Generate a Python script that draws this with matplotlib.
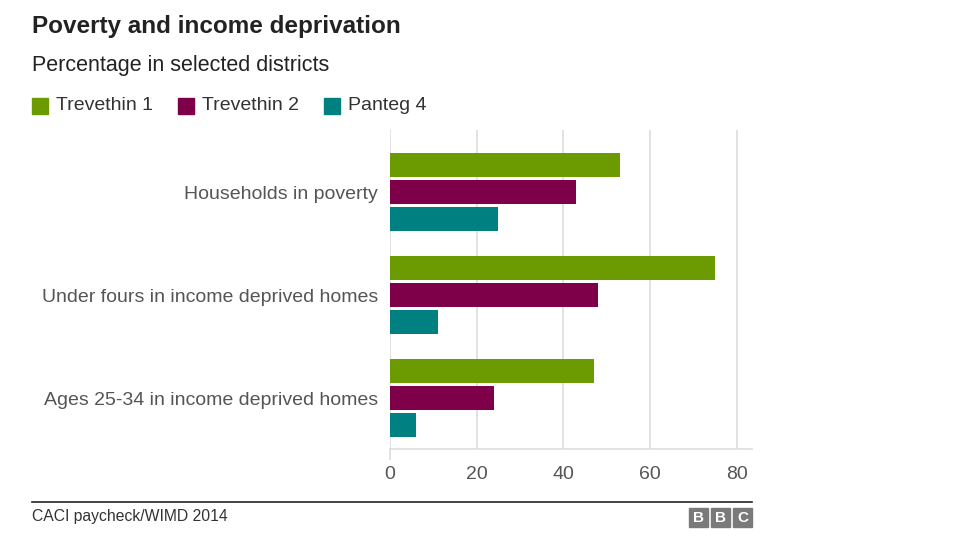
import numpy as np
import matplotlib.pyplot as plt
from matplotlib.patches import Rectangle

plt.rcParams['font.family'] = ['Liberation Sans', 'DejaVu Sans']

categories = ['Households in poverty',
              'Under fours in income deprived homes',
              'Ages 25-34 in income deprived homes']
series_names = ['Trevethin 1', 'Trevethin 2', 'Panteg 4']
trevethin1 = [53, 75, 47]
trevethin2 = [43, 48, 24]
panteg4 = [25, 11, 6]
colors = ['#6b9b00', '#7e0048', '#008080']
xticks = [0, 20, 40, 60, 80]

W, H = 976, 549
fig = plt.figure(figsize=(W/100, H/100), dpi=100)

# axes box in pixel coords
left, right, top, bottom = 390, 752, 130, 449
ax = fig.add_axes([left/W, 1 - bottom/H, (right-left)/W, (bottom-top)/H])

y = np.arange(len(categories))
step = 0.262
bh = 0.233
for i, (vals, c) in enumerate(zip([trevethin1, trevethin2, panteg4], colors)):
    ax.barh(y + (i-1)*step, vals, height=bh, color=c, zorder=3)

ax.set_xlim(0, 83.5)
ax.set_ylim(2.495, -0.602)
ax.set_xticks(xticks)
ax.set_xticklabels([str(t) for t in xticks])
ax.xaxis.grid(True, color='#dddddd', linewidth=1.2, zorder=0)
ax.set_yticks(y)
ax.set_yticklabels(categories)
ax.tick_params(axis='y', length=0, pad=8.5, labelsize=14, labelcolor='#555555')
ax.tick_params(axis='x', length=8, color='#dddddd', width=1.2, pad=4,
               labelsize=14, labelcolor='#555555')
# only the zero tick pokes below the baseline
for t in ax.xaxis.get_major_ticks()[1:]:
    t.tick1line.set_visible(False)
for s in ['top', 'right', 'left']:
    ax.spines[s].set_visible(False)
ax.spines['bottom'].set_color('#dddddd')
ax.spines['bottom'].set_linewidth(1.2)

# title, subtitle
fig.text(32/W, 1 - 27/H, 'Poverty and income deprivation', fontsize=17.5,
         fontweight='bold', color='#222222', va='center', ha='left')
fig.text(32/W, 1 - 65/H, 'Percentage in selected districts', fontsize=15.5,
         color='#222222', va='center', ha='left')

# legend
lx = [32, 178, 324]
for x0, name, c in zip(lx, series_names, colors):
    fig.patches.append(Rectangle((x0/W, 1 - 114/H), 16/W, 16/H, color=c,
                                 transform=fig.transFigure))
    fig.text((x0 + 24)/W, 1 - 106/H, name, fontsize=14, color='#333333',
             va='center', ha='left')

# footer
fig.add_artist(plt.Line2D([32/W, 752/W], [1 - 502/H, 1 - 502/H], color='#222222',
                          linewidth=1.2, transform=fig.transFigure))
fig.text(32/W, 1 - 517/H, 'CACI paycheck/WIMD 2014', fontsize=11.3,
         color='#333333', va='center', ha='left')
for k, ch in enumerate('BBC'):
    bx = 689 + k*22
    fig.patches.append(Rectangle((bx/W, 1 - 527/H), 19/W, 19/H, color='#7a7a7a',
                                 transform=fig.transFigure))
    fig.text((bx + 9.5)/W, 1 - 517.5/H, ch, fontsize=11, fontweight='bold',
             color='white', va='center', ha='center')

fig.savefig('out.png', dpi=100, facecolor='white')
